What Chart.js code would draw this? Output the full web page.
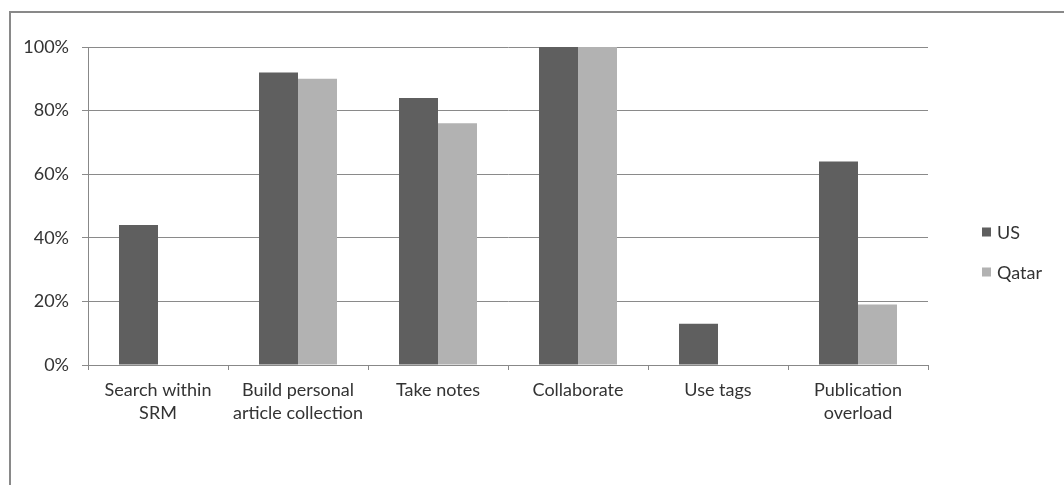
<!DOCTYPE html>
<html lang="en">

<head>
    <meta charset="UTF-8">
    <title>Reference managers</title>
    <style>
        body { margin: 0; background: #fff; }
        #wrap { position: relative; width: 1064px; height: 485px; overflow: hidden; }
        #frame { position: absolute; left: 9px; top: 11px; width: 1100px; height: 500px;
                 border-left: 2px solid #898989; border-top: 2px solid #898989; }
        canvas { position: absolute; left: 0; top: 0; }
    </style>
</head>

<body>
    <div id="wrap">
        <div id="frame"></div>
        <canvas id="myCanvas" width="1064" height="485"></canvas>
    </div>
    <script src="https://cdn.jsdelivr.net/npm/chart.js@4.4.0/dist/chart.umd.min.js"></script>
    <script>
        const categories = [
            ['Search within', 'SRM'],
            ['Build personal', 'article collection'],
            'Take notes',
            'Collaborate',
            'Use tags',
            ['Publication', 'overload']
        ];
        const usValues = [44, 92, 84, 100, 13, 64];
        const qatarValues = [0, 90, 76, 100, 0, 19];
        const yTicks = [0, 20, 40, 60, 80, 100];

        // Lato ~ Calibri metrics
        const font = { family: 'Lato, "Open Sans", sans-serif', size: 18, lineHeight: 1.28 };

        // legend drawn by hand, excel style: small square + label
        const sideLegend = {
            id: 'sideLegend',
            afterDraw(chart) {
                const c = chart.ctx;
                const x = chart.chartArea.right + 54;
                c.save();
                c.font = font.size + 'px ' + font.family;
                c.textBaseline = 'middle';
                chart.data.datasets.forEach((ds, i) => {
                    const y = 232 + i * 40;
                    c.fillStyle = ds.backgroundColor;
                    c.fillRect(x, y - 4.5, 9, 9);
                    c.fillStyle = '#333';
                    c.fillText(ds.label, x + 15, y + 1);
                });
                c.restore();
            }
        };

        var ctx = document.getElementById('myCanvas').getContext('2d');
        var myChart = new Chart(ctx, {
            type: 'bar',
            data: {
                labels: categories,
                datasets: [{
                    label: 'US',
                    backgroundColor: '#5f5f5f',
                    data: usValues
                }, {
                    label: 'Qatar',
                    backgroundColor: '#b2b2b2',
                    data: qatarValues
                }]
            },
            options: {
                responsive: false,
                animation: false,
                layout: { padding: { left: 0, top: 47, right: 136, bottom: 0 } },
                categoryPercentage: 0.557,
                barPercentage: 1,
                plugins: {
                    legend: { display: false },
                    tooltip: { enabled: false }
                },
                scales: {
                    x: {
                        offset: true,
                        grid: { offset: true, drawOnChartArea: false, drawTicks: true, tickLength: 5, color: '#888' },
                        border: { color: '#888' },
                        ticks: { color: '#333', font: font, padding: 9, maxRotation: 0, autoSkip: false },
                        afterFit: s => { s.height = 120; }
                    },
                    y: {
                        min: 0,
                        max: 100,
                        afterBuildTicks: s => { s.ticks = yTicks.map(v => ({ value: v })); },
                        grid: { color: '#8a8a8a', tickLength: 6 },
                        border: { color: '#888' },
                        ticks: { color: '#333', font: font, padding: 13, callback: v => v + '%' },
                        afterFit: s => { s.width = 88; }
                    }
                }
            },
            plugins: [sideLegend]
        });
    </script>
</body>

</html>
